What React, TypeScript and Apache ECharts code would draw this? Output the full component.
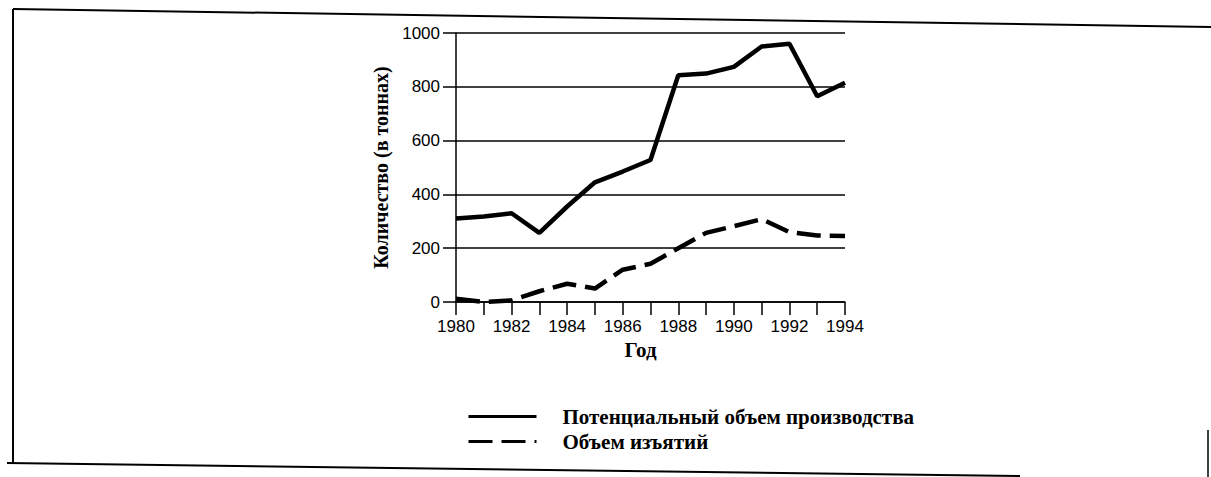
import React, { useEffect, useRef } from "react";
import * as echarts from "echarts";

const years = ["1980","1981","1982","1983","1984","1985","1986","1987","1988","1989","1990","1991","1992","1993","1994"];
const potential = [310, 318, 330, 257, 355, 445, 485, 528, 843, 849, 874, 950, 960, 765, 815];
const removals = [12, 0, 6, 40, 68, 50, 120, 142, 200, 257, 282, 308, 260, 247, 245];
const seriesNames = ["Потенциальный объем производства", "Объем изъятий"];
const yTitle = "Количество (в тоннах)";
const xTitle = "Год";

export default function App() {
  const ref = useRef<HTMLDivElement>(null);
  useEffect(() => {
    if (!ref.current) return;
    const chart = echarts.init(ref.current, null, { renderer: "svg" });
    const serif = "'Liberation Serif', 'DejaVu Serif', serif";
    const sans = "'Liberation Sans', Arial, sans-serif";
    chart.setOption({
      animation: false,
      backgroundColor: "#ffffff",
      grid: { left: 456, right: 366, top: 33, bottom: 175, containLabel: false },
      xAxis: {
        type: "category",
        data: years,
        boundaryGap: false,
        axisLine: { show: true, lineStyle: { color: "#000", width: 1.5 } },
        axisTick: { show: true, interval: 0, length: 13, lineStyle: { color: "#000", width: 1.5 } },
        axisLabel: { interval: 1, color: "#000", fontFamily: sans, fontSize: 17, margin: 16 },
        name: xTitle,
        nameLocation: "middle",
        nameGap: 34,
        nameTextStyle: { color: "#000", fontFamily: serif, fontWeight: "bold", fontSize: 21, padding: [0, 20, 0, 0] },
      },
      yAxis: {
        type: "value",
        min: 0,
        max: 1000,
        interval: 200,
        axisLine: { show: true, lineStyle: { color: "#000", width: 1.5 } },
        axisTick: { show: true, length: 13, lineStyle: { color: "#000", width: 1.5 } },
        splitLine: { show: true, lineStyle: { color: "#000", width: 1.5 } },
        axisLabel: { color: "#000", fontFamily: sans, fontSize: 17, margin: 16, formatter: (v: number) => String(v) },
        name: yTitle,
        nameLocation: "middle",
        nameRotate: 90,
        nameGap: 65,
        nameTextStyle: { color: "#000", fontFamily: serif, fontWeight: "bold", fontSize: 20 },
      },
      legend: {
        orient: "vertical",
        left: 467,
        top: 406,
        padding: 0,
        itemWidth: 68,
        itemHeight: 14,
        itemGap: 4,
        data: seriesNames,
        lineStyle: { width: 3 },
        itemStyle: { opacity: 0 },
        textStyle: { color: "#000", fontFamily: serif, fontWeight: "bold", fontSize: 21, padding: [0, 0, 0, 21] },
      },
      series: [
        {
          name: seriesNames[0],
          type: "line",
          data: potential,
          symbol: "none",
          lineStyle: { color: "#000", width: 4.5, type: "solid" },
          itemStyle: { color: "#000" },
        },
        {
          name: seriesNames[1],
          type: "line",
          data: removals,
          symbol: "none",
          lineStyle: { color: "#000", width: 4.5, type: [24, 9] },
          itemStyle: { color: "#000" },
        },
      ],
      graphic: [
        { type: "line", shape: { x1: 13, y1: 9, x2: 1211, y2: 27 }, style: { stroke: "#000", lineWidth: 2 } },
        { type: "line", shape: { x1: 13, y1: 9, x2: 13, y2: 463 }, style: { stroke: "#000", lineWidth: 2 } },
        { type: "line", shape: { x1: 7, y1: 463, x2: 1020, y2: 476 }, style: { stroke: "#000", lineWidth: 2 } },
        { type: "line", shape: { x1: 1208, y1: 430, x2: 1208, y2: 477 }, style: { stroke: "#000", lineWidth: 1.5 } },
      ],
    });
    return () => chart.dispose();
  }, []);
  return <div ref={ref} style={{ position: "fixed", left: 0, top: 0, width: 1211, height: 477 }} />;
}
